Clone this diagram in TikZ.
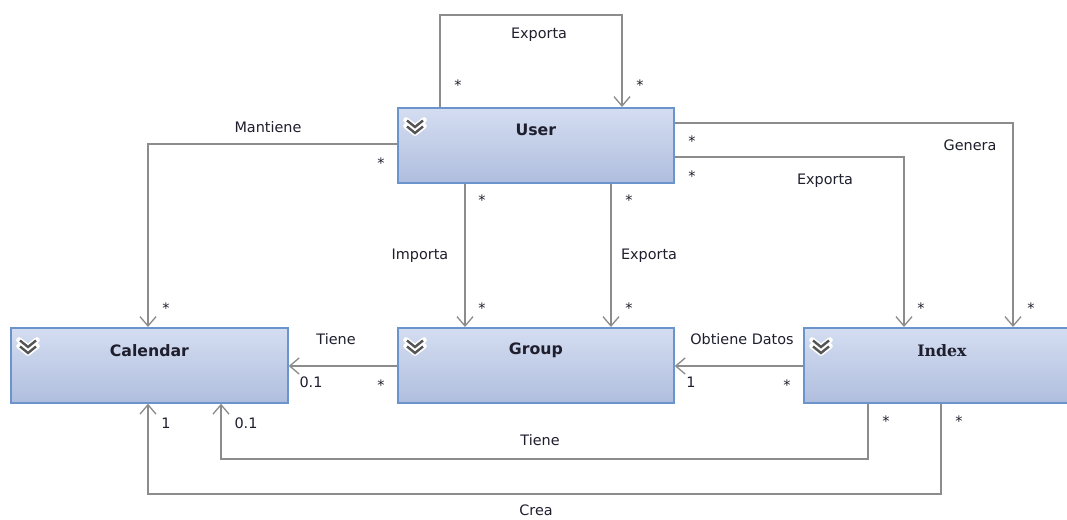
\documentclass[tikz,border=0pt]{standalone}
\usepackage{fontspec}
\setmainfont{DejaVu Sans}
\newfontfamily\idxfont{DejaVu Serif}
\usetikzlibrary{arrows.meta,calc}
\definecolor{boxtop}{RGB}{212,221,241}
\definecolor{boxbot}{RGB}{176,190,222}
\definecolor{boxline}{RGB}{108,148,204}
\definecolor{conncol}{RGB}{140,140,140}
\definecolor{txtcol}{RGB}{30,30,45}
\definecolor{chevcol}{RGB}{85,85,85}
\newcommand\chevicon[1]{%
  \foreach \dy in {0,6}{%
    \draw[white,line width=4.2pt,line cap=round,line join=round]
      ($(#1.north west)+(9,13+\dy)$) -- ($(#1.north west)+(18,20+\dy)$) -- ($(#1.north west)+(27,13+\dy)$);}
  \foreach \dy in {0,6}{%
    \draw[chevcol,line width=1.8pt,line join=miter]
      ($(#1.north west)+(10,13.5+\dy)$) -- ($(#1.north west)+(18,20+\dy)$) -- ($(#1.north west)+(26,13.5+\dy)$);}
}
\begin{document}
\begin{tikzpicture}[x=0.75pt,y=-0.75pt,
  umlbox/.style={draw=boxline,line width=1.3pt,rectangle,anchor=north west,
    minimum width=276*0.75pt,minimum height=75*0.75pt,inner sep=0pt,
    top color=boxtop,bottom color=boxbot},
  title/.style={anchor=center,yshift=-17.5pt,text=txtcol,font=\fontsize{11.8}{13}\selectfont\bfseries},
  conn/.style={draw=conncol,line width=1.3pt},
  arr/.style={conn,-{Straight Barb[length=7pt,width=12pt,line width=1pt]}},
  lbl/.style={text=txtcol,font=\fontsize{10.8}{13}\selectfont,inner sep=0pt},
  ast/.style={lbl,yshift=-2.5pt}]
\useasboundingbox (0,0) rectangle (1067,520);

% boxes
\node[umlbox,label={[title]north:User}] (User) at (397,107) {};
\node[umlbox,minimum width=277*0.75pt,label={[title]north:Calendar}] (Calendar) at (10,327) {};
\node[umlbox,label={[title]north:Group}] (Group) at (397,327) {};
\node[umlbox,label={[title,font=\fontsize{11.8}{13}\selectfont\idxfont\bfseries]north:Index}] (Index) at (803,327) {};
\chevicon{User}
\chevicon{Calendar}
\chevicon{Group}
\chevicon{Index}

% connectors
\draw[arr] ($(User.north west)+(43,0)$) -- ++(0,-92) -| ($(User.north west)+(225,0)$);
\draw[arr] ($(User.north west)+(0,37)$) -| ($(Calendar.north west)+(138,0)$);
\draw[arr] ($(User.north east)+(0,16)$) -| ($(Index.north west)+(210,0)$);
\draw[arr] ($(User.north east)+(0,50)$) -| ($(Index.north west)+(101,0)$);
\draw[arr] ($(User.south west)+(68,0)$) -- ($(Group.north west)+(68,0)$);
\draw[arr] ($(User.south west)+(214,0)$) -- ($(Group.north west)+(214,0)$);
\draw[arr] ($(Group.north west)+(0,39)$) -- ($(Calendar.north east)+(0,39)$);
\draw[arr] ($(Index.north west)+(0,39)$) -- ($(Group.north east)+(0,39)$);
\draw[arr] ($(Index.south west)+(65,0)$) -- ++(0,55) -| ($(Calendar.south west)+(211,0)$);
\draw[arr] ($(Index.south west)+(138,0)$) -- ++(0,90) -| ($(Calendar.south west)+(138,0)$);

% labels
\node[lbl] (l1) at (539,35) {Exporta};
\node[ast] (a1) at (458,82) {*};
\node[ast] (a2) at (640,82) {*};
\node[lbl] (l2) at (268,127) {Mantiene};
\node[ast] (a3) at (381,160) {*};
\node[ast] (a4) at (166,305) {*};
\node[lbl] (l3) at (970,145) {Genera};
\node[ast] (a5) at (692,138) {*};
\node[ast] (a6) at (1031,305) {*};
\node[lbl] (l4) at (825,181) {Exporta};
\node[ast] (a7) at (692,173) {*};
\node[ast] (a8) at (921,305) {*};
\node[lbl] (l5) at (420,256) {Importa};
\node[ast] (a9) at (482,197) {*};
\node[ast] (a10) at (482,305) {*};
\node[lbl] (l6) at (649,256) {Exporta};
\node[ast] (a11) at (629,197) {*};
\node[ast] (a12) at (629,305) {*};
\node[lbl] (l7) at (336,339) {Tiene};
\node[lbl] (m1) at (311,382) {0.1};
\node[ast] (a13) at (381,382) {*};
\node[lbl] (l8) at (742,339) {Obtiene Datos};
\node[lbl] (m2) at (691,382) {1};
\node[ast] (a14) at (787,382) {*};
\node[lbl] (l9) at (540,440) {Tiene};
\node[lbl] (m3) at (246,423) {0.1};
\node[ast] (a15) at (886,418) {*};
\node[lbl] (l10) at (536,510) {Crea};
\node[lbl] (m4) at (166,423) {1};
\node[ast] (a16) at (959,418) {*};
\end{tikzpicture}
\end{document}
